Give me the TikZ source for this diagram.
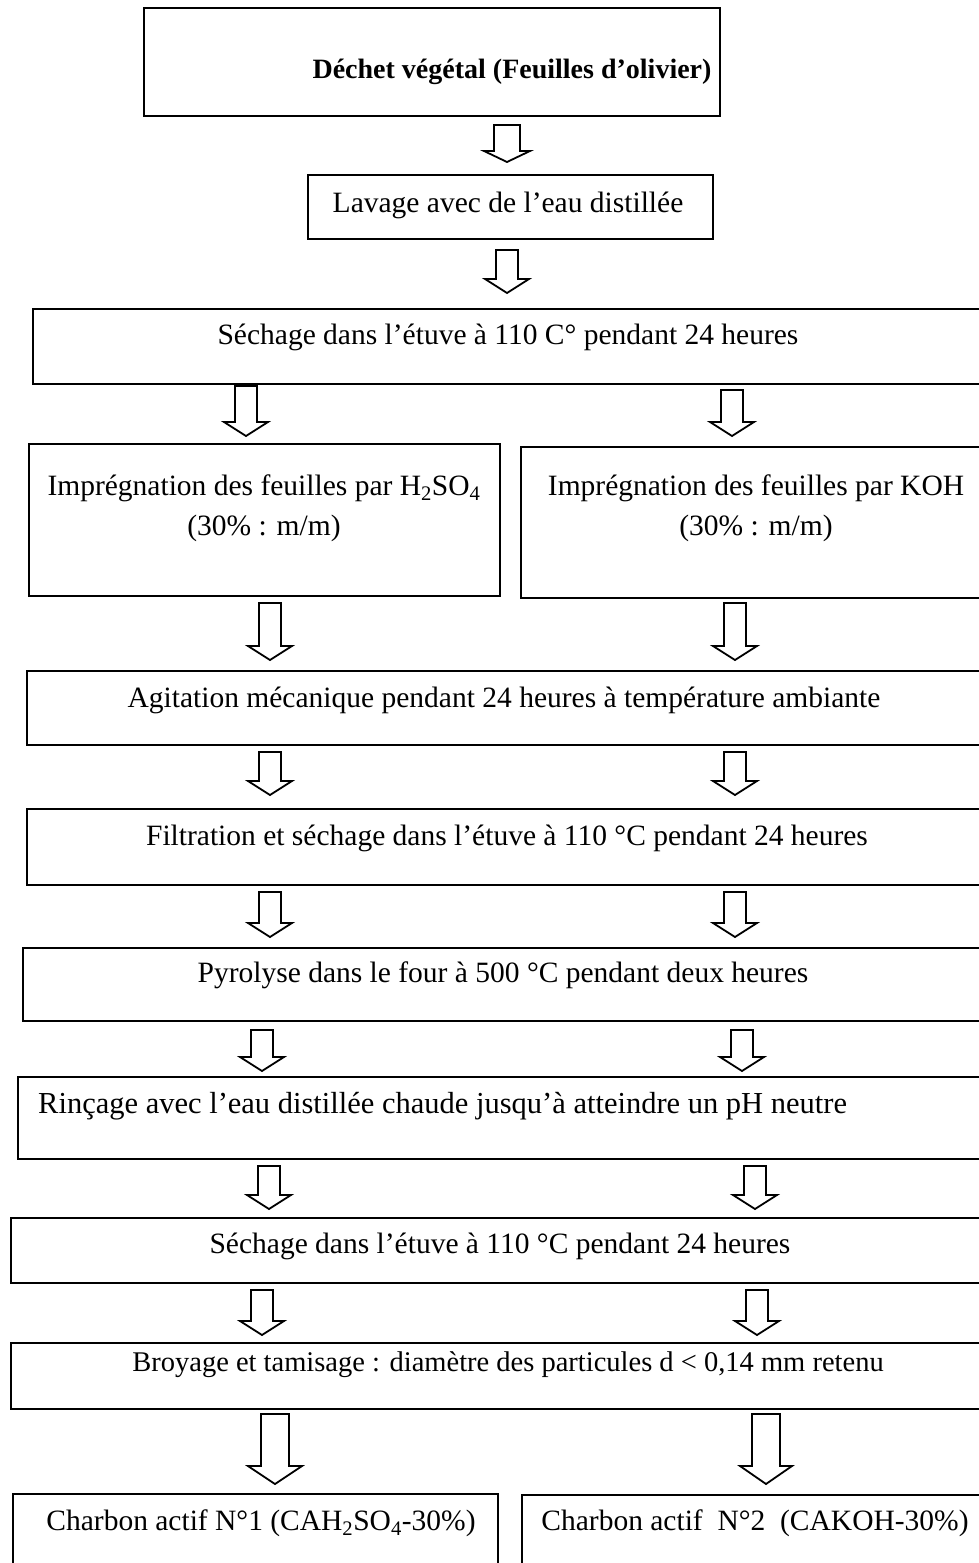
\documentclass[tikz,border=0pt]{standalone}
\usepackage{fontspec}
\setmainfont{Liberation Serif}
\tikzset{
  box/.style={draw=black, line width=2pt, rectangle, inner sep=0pt},
  txt/.style={inner sep=0pt, font=\fontsize{29.5}{35}\selectfont, anchor=base},
  arrowline/.style={draw=black, line width=1.8pt, line join=miter, fill=white}
}
\newcommand\boxat[5]{\node[box, anchor=north west, minimum width=#4-#2, minimum height=#5-#3] (#1) at (#2,#3) {};}
% name, x, top, tip, half shaft, half head, head height
\newcommand\blockarrowx[7]{\draw[arrowline] (#2-#5,#3) -- (#2+#5,#3) -- (#2+#5,#4-#7) -- (#2+#6,#4-#7) -- (#2,#4) -- (#2-#6,#4-#7) -- (#2-#5,#4-#7) -- cycle; \coordinate (#1) at (#2,#4);}
\newcommand\blockarrow[4]{\blockarrowx{#1}{#2}{#3}{#4}{11}{22}{14}}
\begin{document}
\begin{tikzpicture}[x=1pt,y=-1pt]
\useasboundingbox (0,0) rectangle (979,1563);
\clip (0,0) rectangle (979,1563);
% boxes
\boxat{b1}{143}{7}{719}{115}
\boxat{b2}{307}{174}{712}{238}
\boxat{b3}{32}{308}{990}{383}
\boxat{b4l}{28}{443}{499}{595}
\boxat{b4r}{520}{446}{990}{597}
\boxat{b5}{26}{670}{990}{744}
\boxat{b6}{26}{808}{990}{884}
\boxat{b7}{22}{947}{990}{1020}
\boxat{b8}{17}{1076}{990}{1158}
\boxat{b9}{10}{1217}{990}{1282}
\boxat{b10}{10}{1342}{990}{1408}
\boxat{b11l}{12}{1493}{497}{1600}
\boxat{b11r}{521}{1494}{990}{1600}
% texts
\node[txt, font=\fontsize{28}{33}\selectfont\bfseries] (t1) at (512,78) {Déchet végétal (Feuilles d’olivier)};
\node[txt] (t2) at (508,212) {Lavage avec de l’eau distillée};
\node[txt] (t3) at (508,344) {Séchage dans l’étuve à 110 C° pendant 24 heures};
\node[txt] (t4l) at (264,495) {Imprégnation des feuilles par H\textsubscript{2}SO\textsubscript{4}};
\node[txt] (t4l2) at (264,535) {(30\% : m/m)};
\node[txt] (t4r) at (756,495) {Imprégnation des feuilles par KOH};
\node[txt] (t4r2) at (756,535) {(30\% : m/m)};
\node[txt] (t5) at (504,707) {Agitation mécanique pendant 24 heures à température ambiante};
\node[txt] (t6) at (507,845) {Filtration et séchage dans l’étuve à 110 °C pendant 24 heures};
\node[txt] (t7) at (503,982) {Pyrolyse dans le four à 500 °C pendant deux heures};
\node[txt, anchor=base west, font=\fontsize{30.5}{36}\selectfont] (t8) at (38,1113) {Rinçage avec l’eau distillée chaude jusqu’à atteindre un pH neutre};
\node[txt] (t9) at (500,1253) {Séchage dans l’étuve à 110 °C pendant 24 heures};
\node[txt, font=\fontsize{28.5}{34}\selectfont] (t10) at (508,1371) {Broyage et tamisage : diamètre des particules d < 0,14 mm retenu};
\node[txt] (t11l) at (261,1530) {Charbon actif N°1 (CAH\textsubscript{2}SO\textsubscript{4}-30\%)};
\node[txt] (t11r) at (755,1530) {Charbon actif\ \ N°2\ \ (CAKOH-30\%)};
% arrows
\blockarrowx{a1}{507}{125}{162}{13}{23}{11}
\blockarrow{a2}{507}{250}{293}
\blockarrow{a3l}{246}{386}{436}
\blockarrow{a3r}{732}{390}{436}
\blockarrow{a4l}{270}{603}{660}
\blockarrow{a4r}{735}{603}{660}
\blockarrow{a5l}{270}{752}{795}
\blockarrow{a5r}{735}{752}{795}
\blockarrow{a6l}{270}{892}{937}
\blockarrow{a6r}{735}{892}{937}
\blockarrow{a7l}{262}{1030}{1071}
\blockarrow{a7r}{742}{1030}{1071}
\blockarrow{a8l}{269}{1166}{1209}
\blockarrow{a8r}{755}{1166}{1209}
\blockarrow{a9l}{262}{1290}{1335}
\blockarrow{a9r}{757}{1290}{1335}
\blockarrowx{a10l}{275}{1414}{1484}{14}{27}{18}
\blockarrowx{a10r}{766}{1414}{1484}{14}{26}{18}
\end{tikzpicture}
\end{document}
